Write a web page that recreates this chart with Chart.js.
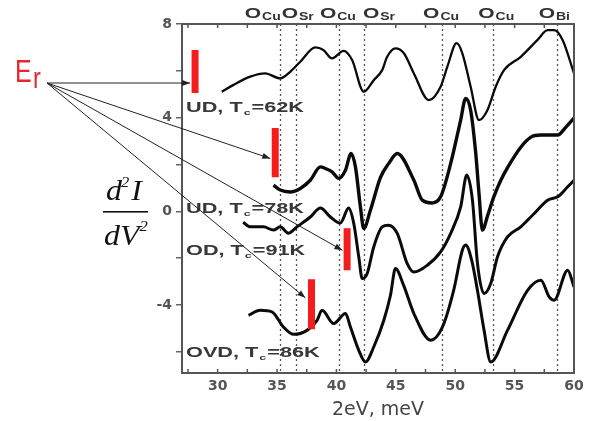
<!DOCTYPE html>
<html>
<head>
<meta charset="utf-8">
<script src="https://cdn.jsdelivr.net/npm/chart.js@4.4.0/dist/chart.umd.min.js"></script>
<style>
  html, body { margin: 0; padding: 0; background: #fff; }
  #wrap { width: 600px; height: 421px; }
</style>
</head>
<body>
<div id="wrap"><canvas id="chart" width="600" height="421"></canvas></div>
<script>
// --- data (x: 2eV in meV, y: d2I/dV2, arbitrary offset) ---
const UD62_X = [30.35, 31.3, 32.74, 34.0, 35.27, 36.11, 36.96, 38.22, 38.9, 39.63, 40.61, 41.32, 42.3, 43.14, 43.85, 44.27, 44.97, 45.68, 46.52, 47.78, 48.77, 49.34, 50.12, 50.6, 51.3, 52.0, 52.71, 53.41, 54.11, 55.52, 56.93, 57.78, 58.33, 59.04, 60.0];
const UD62_Y = [5.11, 5.39, 5.75, 5.89, 5.68, 5.96, 6.39, 7.0, 6.89, 6.53, 6.85, 6.46, 5.11, 5.6, 6.03, 6.6, 6.96, 6.75, 5.89, 4.75, 5.32, 6.18, 7.18, 6.75, 5.32, 3.9, 4.32, 5.32, 6.03, 6.6, 7.32, 7.74, 7.74, 7.32, 5.89];

const UD78_X = [34.7, 35.27, 36.11, 36.96, 37.8, 38.65, 39.07, 39.63, 40.19, 40.76, 41.24, 41.6, 42.02, 42.3, 42.86, 43.71, 44.41, 45.12, 46.52, 47.23, 48.07, 48.77, 49.62, 50.46, 50.88, 51.3, 51.73, 52.0, 52.29, 52.74, 53.24, 53.84, 54.43, 55.52, 56.37, 57.21, 58.62, 59.32, 60.0];
const UD78_Y = [1.12, 0.91, 0.83, 0.98, 1.33, 1.9, 1.83, 1.69, 1.41, 1.76, 2.47, 1.9, 0.19, -0.73, 0.05, 1.45, 2.05, 2.47, 1.33, 0.48, 0.36, 0.62, 2.05, 3.9, 4.82, 4.32, 2.47, 0.78, -0.8, -0.16, 0.61, 1.33, 1.89, 2.74, 3.17, 3.26, 3.26, 3.6, 3.98];

const OD91_X = [32.15, 32.74, 33.86, 34.7, 35.27, 35.95, 36.68, 37.8, 38.65, 39.49, 40.33, 41.03, 41.46, 41.88, 42.17, 42.59, 43.14, 43.85, 44.38, 45.12, 45.96, 46.52, 47.65, 48.77, 49.62, 50.46, 50.97, 51.45, 51.87, 52.43, 52.99, 53.56, 54.4, 55.52, 56.65, 57.78, 58.62, 59.47, 60.0];
const OD91_Y = [-0.46, -0.66, -0.66, -0.8, -0.66, -0.93, -0.66, -0.24, 0.14, -0.24, -0.5, 0.14, -0.52, -1.94, -2.87, -2.65, -1.52, -0.66, -0.59, -0.94, -2.23, -2.59, -2.3, -1.73, -0.94, 0.19, 1.55, 0.48, -2.21, -3.51, -3.08, -1.94, -1.09, -0.66, -0.09, 0.48, 0.62, 1.05, 1.33];

const OVD86_X = [32.6, 33.58, 34.57, 35.55, 36.39, 37.52, 38.37, 38.79, 39.77, 40.76, 41.18, 41.88, 42.44, 43.14, 43.99, 44.55, 44.97, 45.65, 46.52, 47.93, 48.92, 49.87, 50.6, 50.88, 51.39, 51.87, 52.43, 52.99, 54.4, 56.09, 57.21, 57.91, 58.33, 59.47, 60.0];
const OVD86_Y = [-4.44, -4.22, -4.29, -4.94, -5.25, -5.08, -4.65, -4.22, -4.79, -4.36, -4.94, -5.93, -6.43, -5.79, -4.65, -3.58, -2.44, -3.15, -4.36, -5.5, -4.94, -3.37, -1.66, -1.44, -2.09, -3.37, -5.08, -6.43, -5.08, -3.37, -2.94, -3.65, -3.79, -2.51, -3.23];

// E_r markers (red bars) and the ends of the arrows pointing at them
const ER_X = [28.1, 34.85, 40.9, 37.9];
const ER_TOP = [6.89, 3.56, -0.72, -2.9];
const ER_BOT = [5.05, 1.46, -2.51, -5.03];
const ARROW_X = [27.68, 34.43, 40.5, 37.38];
const ARROW_Y = [5.48, 2.26, -1.66, -3.69];

// phonon mode positions (dotted lines) and their labels
const MODE_LINES = [35.27, 36.6, 40.25, 42.36, 48.9, 53.2, 58.6];
const MODE_LABEL_X = [33.75, 36.7, 40.08, 43.54, 48.77, 53.41, 58.3];
const MODE_LABEL_SUB = ['Cu', 'Sr', 'Cu', 'Sr', 'Cu', 'Cu', 'Bi'];

// sample labels
const SAMPLE_PRE = ['UD, T', 'UD, T', 'OD, T', 'OVD, T'];
const SAMPLE_POST = ['=62K', '=78K', '=91K', '=86K'];
const SAMPLE_Y = [4.45, 0.14, -1.66, -6.02];

// axes
const X_TICKS = [27.5, 30, 32.5, 35, 37.5, 40, 42.5, 45, 47.5, 50, 52.5, 55, 57.5, 60];
const X_LABELS = [30, 35, 40, 45, 50, 55, 60];
const Y_TICKS = [-6, -4, -2, 0, 2, 4, 6, 8];
const Y_LABELS = [-4, 0, 4, 8];

const toPoints = (xs, ys) => xs.map((x, i) => ({ x: x, y: ys[i] }));

const curves = [
    { data: toPoints(UD62_X, UD62_Y), width: 2.3 },
    { data: toPoints(UD78_X, UD78_Y), width: 3.4 },
    { data: toPoints(OD91_X, OD91_Y), width: 3 },
    { data: toPoints(OVD86_X, OVD86_Y), width: 3 }
];

const datasets = [];
ER_X.forEach((x, i) => {
    datasets.push({
        data: [{ x: x, y: ER_TOP[i] }, { x: x, y: ER_BOT[i] }],
        borderColor: '#f41c1c',
        borderWidth: 7,
        borderCapStyle: 'butt',
        pointRadius: 0,
        order: 0
    });
});
curves.forEach(c => {
    datasets.push({
        data: c.data,
        borderColor: '#0a0a0a',
        borderWidth: c.width,
        cubicInterpolationMode: 'monotone',
        pointRadius: 0,
        order: 1
    });
});

// draws text squeezed/stretched horizontally (the source picture is stretched)
function wideText(ctx, str, x, y, sx) {
    ctx.save();
    ctx.translate(x, y);
    ctx.scale(sx, 1);
    ctx.textAlign = 'left';
    ctx.fillText(str, 0, 0);
    ctx.restore();
    return ctx.measureText(str).width * sx;
}

const decor = {
    id: 'decor',
    beforeDatasetsDraw(chart) {
        const { ctx, chartArea: a, scales: { x } } = chart;
        ctx.save();
        ctx.strokeStyle = '#555';
        ctx.lineWidth = 1.3;
        ctx.setLineDash([2, 3]);
        MODE_LINES.forEach(v => {
            const px = Math.round(x.getPixelForValue(v)) + 0.5;
            ctx.beginPath();
            ctx.moveTo(px, a.top);
            ctx.lineTo(px, a.bottom);
            ctx.stroke();
        });
        ctx.restore();
    },
    afterDatasetsDraw(chart) {
        const { ctx, chartArea: a, scales: { x, y } } = chart;
        ctx.save();

        // frame + inward ticks on top and bottom
        ctx.strokeStyle = '#555';
        ctx.lineWidth = 2;
        ctx.strokeRect(a.left, a.top, a.right - a.left, a.bottom - a.top);
        ctx.lineWidth = 1.5;
        x.ticks.forEach(t => {
            const px = x.getPixelForValue(t.value);
            ctx.beginPath();
            ctx.moveTo(px, a.bottom);
            ctx.lineTo(px, a.bottom - 4);
            ctx.moveTo(px, a.top);
            ctx.lineTo(px, a.top + 4);
            ctx.stroke();
        });

        // mode labels above the frame
        ctx.fillStyle = '#333';
        ctx.textBaseline = 'alphabetic';
        MODE_LABEL_X.forEach((v, i) => {
            ctx.font = 'bold 15px "Liberation Sans", Arial, sans-serif';
            const wO = ctx.measureText('O').width * 1.4;
            ctx.font = 'bold 10px "Liberation Sans", Arial, sans-serif';
            const wS = ctx.measureText(MODE_LABEL_SUB[i]).width * 1.4;
            let px = x.getPixelForValue(v) - (wO + wS) / 2;
            ctx.font = 'bold 15px "Liberation Sans", Arial, sans-serif';
            px += wideText(ctx, 'O', px, 18, 1.4) + 1;
            ctx.font = 'bold 10px "Liberation Sans", Arial, sans-serif';
            wideText(ctx, MODE_LABEL_SUB[i], px, 20, 1.4);
        });

        // sample labels
        ctx.fillStyle = '#383838';
        SAMPLE_PRE.forEach((pre, i) => {
            let px = a.left + 4;
            const py = y.getPixelForValue(SAMPLE_Y[i]) + 5;
            ctx.font = 'bold 14px "Liberation Sans", Arial, sans-serif';
            px += wideText(ctx, pre, px, py, 1.55);
            ctx.font = 'bold 8px "Liberation Sans", Arial, sans-serif';
            px += wideText(ctx, 'c', px + 1, py + 3, 1.55) + 2;
            ctx.font = 'bold 14px "Liberation Sans", Arial, sans-serif';
            wideText(ctx, SAMPLE_POST[i], px, py, 1.55);
        });

        // E_r label and arrows
        ctx.fillStyle = '#e8262b';
        ctx.font = '32px "Liberation Sans", Arial, sans-serif';
        wideText(ctx, 'E', 15, 82, 0.78);
        ctx.font = '30px "Liberation Sans", Arial, sans-serif';
        wideText(ctx, 'r', 33, 88, 0.78);

        const ox = 47, oy = 83;
        ctx.strokeStyle = '#222';
        ctx.fillStyle = '#222';
        ctx.lineWidth = 1;
        ARROW_X.forEach((v, i) => {
            const tx = x.getPixelForValue(v);
            const ty = y.getPixelForValue(ARROW_Y[i]);
            const ang = Math.atan2(ty - oy, tx - ox);
            ctx.beginPath();
            ctx.moveTo(ox, oy);
            ctx.lineTo(tx, ty);
            ctx.stroke();
            ctx.beginPath();
            ctx.moveTo(tx, ty);
            ctx.lineTo(tx - 8 * Math.cos(ang) + 3 * Math.sin(ang), ty - 8 * Math.sin(ang) - 3 * Math.cos(ang));
            ctx.lineTo(tx - 8 * Math.cos(ang) - 3 * Math.sin(ang), ty - 8 * Math.sin(ang) + 3 * Math.cos(ang));
            ctx.closePath();
            ctx.fill();
        });

        // d2I/dV2 label
        ctx.fillStyle = '#111';
        ctx.font = 'italic 29px "Liberation Serif", "Times New Roman", serif';
        let nx = 106;
        nx += wideText(ctx, 'd', nx, 200, 1.1);
        ctx.font = 'italic 15px "Liberation Serif", "Times New Roman", serif';
        nx += wideText(ctx, '2', nx - 1, 187, 1.1);
        ctx.font = 'italic 29px "Liberation Serif", "Times New Roman", serif';
        wideText(ctx, 'I', nx + 1, 200, 1.1);
        ctx.fillRect(103, 211, 45, 1.6);
        let dx = 104;
        dx += wideText(ctx, 'dV', dx, 245, 1.1);
        ctx.font = 'italic 15px "Liberation Serif", "Times New Roman", serif';
        wideText(ctx, '2', dx, 231, 1.1);

        ctx.restore();
    }
};

const tickFont = { family: '"DejaVu Sans", sans-serif', size: 14, weight: 'bold' };

new Chart(document.getElementById('chart').getContext('2d'), {
    type: 'line',
    data: { datasets: datasets },
    options: {
        responsive: false,
        animation: false,
        layout: { padding: { top: 24, right: 26, left: 0, bottom: 0 } },
        plugins: { legend: { display: false }, tooltip: { enabled: false } },
        scales: {
            x: {
                type: 'linear',
                min: 27,
                max: 60,
                afterBuildTicks: s => { s.ticks = X_TICKS.map(v => ({ value: v })); },
                afterFit: s => { s.height = 48; },
                grid: { display: false },
                border: { display: false },
                ticks: {
                    autoSkip: false,
                    maxRotation: 0,
                    padding: -3,
                    color: '#555',
                    font: tickFont,
                    callback: v => X_LABELS.includes(v) ? String(v) : ''
                },
                title: {
                    display: true,
                    text: '2eV, meV',
                    color: '#444',
                    font: { family: '"DejaVu Sans", sans-serif', size: 19 },
                    padding: { top: 0, bottom: 0 }
                }
            },
            y: {
                type: 'linear',
                min: -6.9,
                max: 8,
                afterBuildTicks: s => { s.ticks = Y_TICKS.map(v => ({ value: v })); },
                afterFit: s => { s.width = 182; },
                grid: { drawOnChartArea: false, tickLength: 6, color: '#666', lineWidth: 1.5 },
                border: { display: false },
                ticks: {
                    padding: 4,
                    color: '#555',
                    font: tickFont,
                    callback: v => Y_LABELS.includes(v) ? String(v) : ''
                }
            }
        }
    },
    plugins: [decor]
});
</script>
</body>
</html>
